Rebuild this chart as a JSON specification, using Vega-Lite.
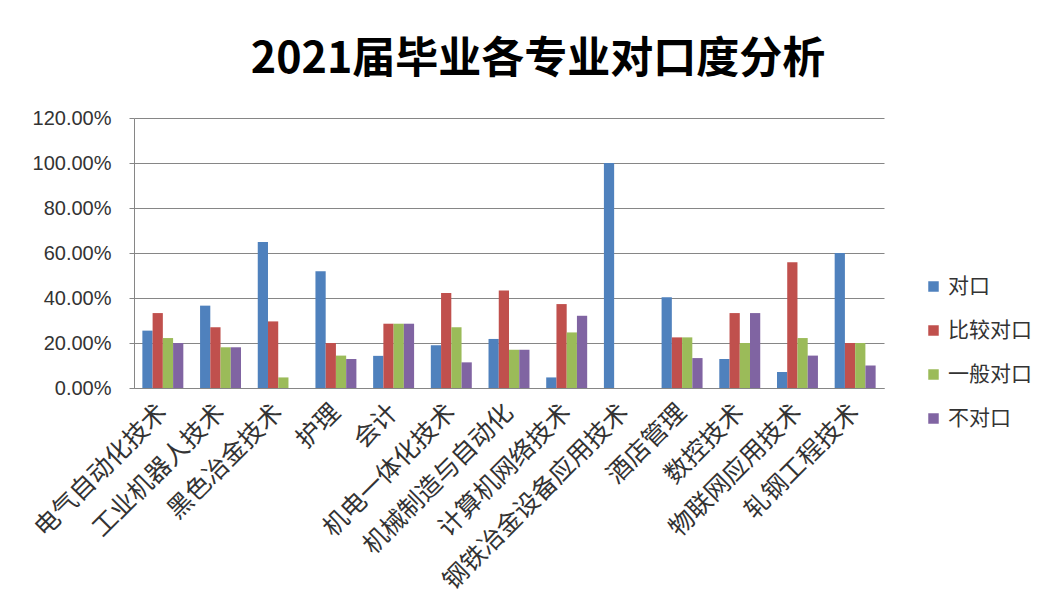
{
  "$schema": "https://vega.github.io/schema/vega-lite/v6.json",
  "width": 750,
  "height": 270,
  "autosize": {"type": "none"},
  "padding": {"left": 134, "top": 118, "right": 167, "bottom": 219},
  "background": "white",
  "title": {
    "text": "2021届毕业各专业对口度分析",
    "font": "Noto Sans CJK SC",
    "fontSize": 43,
    "fontWeight": "bold",
    "color": "#000000",
    "anchor": "middle",
    "dx": 29,
    "offset": 26
  },
  "data": {
    "values": [
      {"专业": "电气自动化技术", "类别": "对口", "比例": 0.255},
      {"专业": "电气自动化技术", "类别": "比较对口", "比例": 0.333},
      {"专业": "电气自动化技术", "类别": "一般对口", "比例": 0.222},
      {"专业": "电气自动化技术", "类别": "不对口", "比例": 0.200},
      {"专业": "工业机器人技术", "类别": "对口", "比例": 0.366},
      {"专业": "工业机器人技术", "类别": "比较对口", "比例": 0.270},
      {"专业": "工业机器人技术", "类别": "一般对口", "比例": 0.181},
      {"专业": "工业机器人技术", "类别": "不对口", "比例": 0.181},
      {"专业": "黑色冶金技术", "类别": "对口", "比例": 0.649},
      {"专业": "黑色冶金技术", "类别": "比较对口", "比例": 0.296},
      {"专业": "黑色冶金技术", "类别": "一般对口", "比例": 0.047},
      {"专业": "黑色冶金技术", "类别": "不对口", "比例": 0},
      {"专业": "护理", "类别": "对口", "比例": 0.519},
      {"专业": "护理", "类别": "比较对口", "比例": 0.200},
      {"专业": "护理", "类别": "一般对口", "比例": 0.144},
      {"专业": "护理", "类别": "不对口", "比例": 0.129},
      {"专业": "会计", "类别": "对口", "比例": 0.1429},
      {"专业": "会计", "类别": "比较对口", "比例": 0.2857},
      {"专业": "会计", "类别": "一般对口", "比例": 0.2857},
      {"专业": "会计", "类别": "不对口", "比例": 0.2857},
      {"专业": "机电一体化技术", "类别": "对口", "比例": 0.190},
      {"专业": "机电一体化技术", "类别": "比较对口", "比例": 0.422},
      {"专业": "机电一体化技术", "类别": "一般对口", "比例": 0.270},
      {"专业": "机电一体化技术", "类别": "不对口", "比例": 0.114},
      {"专业": "机械制造与自动化", "类别": "对口", "比例": 0.218},
      {"专业": "机械制造与自动化", "类别": "比较对口", "比例": 0.433},
      {"专业": "机械制造与自动化", "类别": "一般对口", "比例": 0.170},
      {"专业": "机械制造与自动化", "类别": "不对口", "比例": 0.170},
      {"专业": "计算机网络技术", "类别": "对口", "比例": 0.047},
      {"专业": "计算机网络技术", "类别": "比较对口", "比例": 0.373},
      {"专业": "计算机网络技术", "类别": "一般对口", "比例": 0.247},
      {"专业": "计算机网络技术", "类别": "不对口", "比例": 0.321},
      {"专业": "钢铁冶金设备应用技术", "类别": "对口", "比例": 1.0},
      {"专业": "钢铁冶金设备应用技术", "类别": "比较对口", "比例": 0},
      {"专业": "钢铁冶金设备应用技术", "类别": "一般对口", "比例": 0},
      {"专业": "钢铁冶金设备应用技术", "类别": "不对口", "比例": 0},
      {"专业": "酒店管理", "类别": "对口", "比例": 0.403},
      {"专业": "酒店管理", "类别": "比较对口", "比例": 0.225},
      {"专业": "酒店管理", "类别": "一般对口", "比例": 0.225},
      {"专业": "酒店管理", "类别": "不对口", "比例": 0.133},
      {"专业": "数控技术", "类别": "对口", "比例": 0.129},
      {"专业": "数控技术", "类别": "比较对口", "比例": 0.333},
      {"专业": "数控技术", "类别": "一般对口", "比例": 0.200},
      {"专业": "数控技术", "类别": "不对口", "比例": 0.333},
      {"专业": "物联网应用技术", "类别": "对口", "比例": 0.071},
      {"专业": "物联网应用技术", "类别": "比较对口", "比例": 0.559},
      {"专业": "物联网应用技术", "类别": "一般对口", "比例": 0.222},
      {"专业": "物联网应用技术", "类别": "不对口", "比例": 0.144},
      {"专业": "轧钢工程技术", "类别": "对口", "比例": 0.600},
      {"专业": "轧钢工程技术", "类别": "比较对口", "比例": 0.200},
      {"专业": "轧钢工程技术", "类别": "一般对口", "比例": 0.200},
      {"专业": "轧钢工程技术", "类别": "不对口", "比例": 0.100}
    ]
  },
  "mark": {"type": "bar"},
  "encoding": {
    "x": {
      "field": "专业",
      "type": "nominal",
      "sort": null,
      "scale": {"paddingInner": 0.29, "paddingOuter": 0.145},
      "axis": {
        "title": null,
        "labelAngle": -45,
        "labelAlign": "right",
        "labelBaseline": "middle",
        "labelFont": "Noto Sans CJK SC",
        "labelFontSize": 25,
        "labelColor": "#333333",
        "labelPadding": 20,
        "ticks": false,
        "domainColor": "#868686",
        "labelLimit": 400
      }
    },
    "xOffset": {
      "field": "类别",
      "type": "nominal",
      "sort": ["对口", "比较对口", "一般对口", "不对口"]
    },
    "y": {
      "field": "比例",
      "type": "quantitative",
      "scale": {"domain": [0, 1.2], "nice": false},
      "axis": {
        "title": null,
        "values": [0, 0.2, 0.4, 0.6, 0.8, 1.0, 1.2],
        "format": ".2%",
        "labelFont": "Liberation Sans",
        "labelFontSize": 20,
        "labelColor": "#333333",
        "labelPadding": 18,
        "tickSize": 5,
        "tickColor": "#868686",
        "domainColor": "#868686",
        "gridColor": "#868686",
        "gridWidth": 1
      }
    },
    "color": {
      "field": "类别",
      "type": "nominal",
      "sort": ["对口", "比较对口", "一般对口", "不对口"],
      "scale": {
        "domain": ["对口", "比较对口", "一般对口", "不对口"],
        "range": ["#4F81BD", "#C0504D", "#9BBB59", "#8064A2"]
      },
      "legend": {
        "title": null,
        "orient": "none",
        "legendX": 789,
        "legendY": 158,
        "symbolType": "square",
        "symbolSize": 110,
        "symbolStrokeWidth": 0,
        "labelFont": "Noto Sans CJK SC",
        "labelFontSize": 21,
        "labelColor": "#333333",
        "labelOffset": 4,
        "rowPadding": 22
      }
    }
  },
  "config": {
    "view": {"stroke": null}
  }
}
